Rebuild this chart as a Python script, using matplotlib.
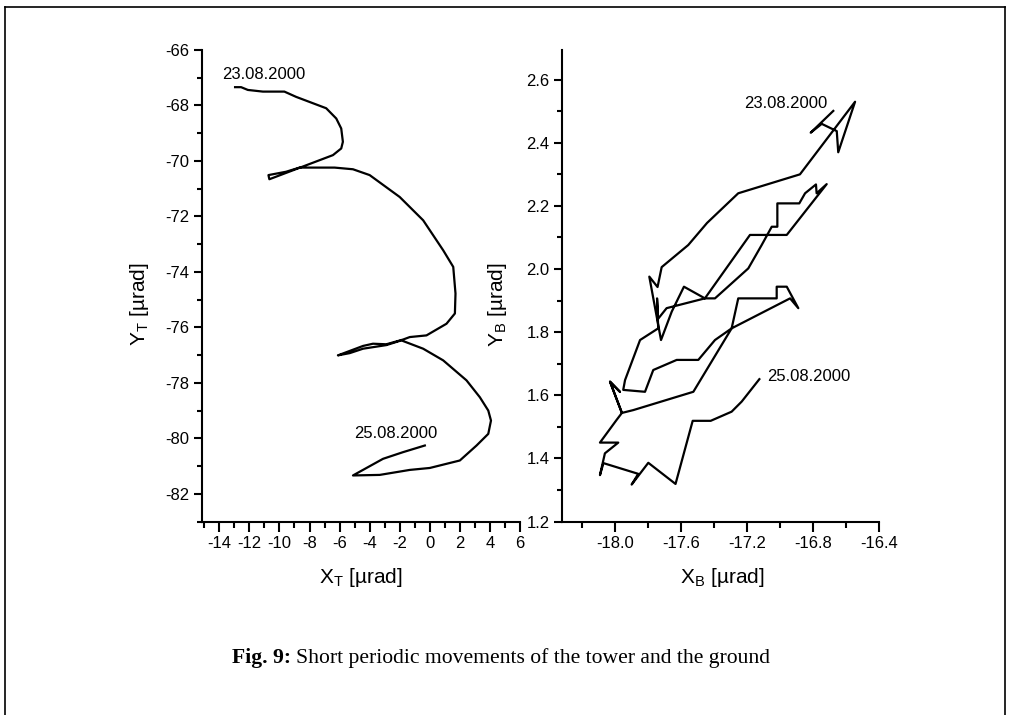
import matplotlib
matplotlib.use('Agg')
import matplotlib.pyplot as plt
from matplotlib.ticker import MultipleLocator, FormatStrFormatter
from matplotlib.lines import Line2D

plt.rcParams['font.family'] = 'Liberation Sans'
plt.rcParams['mathtext.fontset'] = 'custom'
plt.rcParams['mathtext.rm'] = 'Liberation Sans'
plt.rcParams['axes.unicode_minus'] = False

# tower (X_T, Y_T) trace, 23.08.2000 -> 25.08.2000
xt = [-12.95, -12.55, -12.1, -11.1, -9.67, -8.89, -6.89, -6.22, -5.89, -5.78,
      -5.89, -6.44, -10.67, -10.73, -9.56, -8.67, -6.33, -5.11, -4.0, -2.0,
      -0.44, 0.89, 1.56, 1.71, 1.67, 1.11, -0.22, -1.33, -1.78, -2.89,
      -3.78, -4.44, -6.11, -5.33, -4.44, -2.89, -1.89, -0.44, 0.89, 2.44,
      3.33, 3.89, 4.07, 3.89, 3.11, 2.0, 0.0, -1.33, -3.33, -5.11,
      -3.11, -1.78, -0.33]
yt = [-67.34, -67.34, -67.44, -67.5, -67.5, -67.69, -68.1, -68.47, -68.83, -69.31,
      -69.55, -69.79, -70.66, -70.51, -70.39, -70.24, -70.24, -70.3, -70.51, -71.3,
      -72.14, -73.22, -73.82, -74.78, -75.5, -75.87, -76.29, -76.35, -76.44, -76.61,
      -76.59, -76.67, -77.01, -76.93, -76.77, -76.64, -76.47, -76.77, -77.19, -77.91,
      -78.52, -79.0, -79.36, -79.84, -80.26, -80.8, -81.07, -81.14, -81.32, -81.34,
      -80.74, -80.5, -80.26]

# ground (X_B, Y_B) trace
xb = [-16.677, -16.814, -16.747, -16.656, -16.647, -16.545, -16.879, -17.253, -17.442, -17.556,
      -17.717, -17.742, -17.792, -17.721, -17.656, -17.582, -17.455, -17.394, -17.192, -17.111,
      -17.050, -17.016, -17.016, -16.883, -16.848, -16.782, -16.778, -16.717, -16.959, -17.182,
      -17.455, -17.687, -17.739, -17.745, -17.738, -17.848, -17.939, -17.950, -17.818, -17.768,
      -17.626, -17.495, -17.394, -17.293, -16.939, -16.889, -16.959, -17.020, -17.020, -17.253,
      -17.293, -17.525, -17.889, -17.958, -18.030, -17.970, -18.030, -17.958, -17.990, -18.091,
      -17.980, -18.061, -18.091, -18.070, -17.859, -17.899, -17.798, -17.633, -17.529, -17.420,
      -17.293, -17.232, -17.125]
yb = [2.501, 2.432, 2.460, 2.437, 2.370, 2.530, 2.300, 2.240, 2.146, 2.076,
      2.006, 1.943, 1.976, 1.775, 1.865, 1.944, 1.907, 1.907, 2.002, 2.076,
      2.134, 2.134, 2.208, 2.208, 2.240, 2.268, 2.240, 2.269, 2.108, 2.108,
      1.907, 1.876, 1.842, 1.907, 1.812, 1.775, 1.648, 1.617, 1.611, 1.680,
      1.712, 1.712, 1.775, 1.812, 1.907, 1.876, 1.944, 1.944, 1.907, 1.907,
      1.812, 1.611, 1.553, 1.544, 1.643, 1.611, 1.643, 1.544, 1.522, 1.450,
      1.450, 1.416, 1.347, 1.385, 1.351, 1.317, 1.386, 1.319, 1.519, 1.519,
      1.548, 1.580, 1.651]

fig = plt.figure(figsize=(10.11, 7.15), dpi=100)

ax1 = fig.add_axes([202/1011, 1 - 521.5/715, 318/1011, 471.5/715])
ax2 = fig.add_axes([562/1011, 1 - 521.5/715, 317/1011, 471.5/715])

ax1.plot(xt, yt, color='black', lw=1.6)
ax2.plot(xb, yb, color='black', lw=1.6)

ax1.set_xlim(-15.15, 6)
ax1.set_ylim(-83, -66)
ax1.xaxis.set_major_locator(MultipleLocator(2))
ax1.xaxis.set_minor_locator(MultipleLocator(1))
ax1.yaxis.set_major_locator(MultipleLocator(2))
ax1.yaxis.set_minor_locator(MultipleLocator(1))

ax2.set_xlim(-18.321, -16.4)
ax2.set_ylim(1.2, 2.694)
ax2.xaxis.set_major_locator(MultipleLocator(0.4))
ax2.xaxis.set_minor_locator(MultipleLocator(0.2))
ax2.yaxis.set_major_locator(MultipleLocator(0.2))
ax2.yaxis.set_minor_locator(MultipleLocator(0.1))
ax2.xaxis.set_major_formatter(FormatStrFormatter('%.1f'))
ax2.yaxis.set_major_formatter(FormatStrFormatter('%.1f'))

for ax in (ax1, ax2):
    ax.spines['top'].set_visible(False)
    ax.spines['right'].set_visible(False)
    ax.spines['left'].set_linewidth(1.5)
    ax.spines['bottom'].set_linewidth(1.5)
    ax.tick_params(which='major', direction='out', length=6, width=1.5, labelsize=12, pad=3)
    ax.tick_params(which='minor', direction='out', length=3.5, width=1.5)
    ax.tick_params(axis='x', which='major', length=7.5)
    ax.tick_params(axis='x', which='minor', length=4.5)

ax1.set_xlabel(r'X$_{\mathregular{T}}$ [µrad]', fontsize=15)
ax1.set_ylabel(r'Y$_{\mathregular{T}}$ [µrad]', fontsize=15)
ax2.set_xlabel(r'X$_{\mathregular{B}}$ [µrad]', fontsize=15)
ax2.set_ylabel(r'Y$_{\mathregular{B}}$ [µrad]', fontsize=15)
ax1.xaxis.set_label_coords(0.5, -0.094)
ax2.xaxis.set_label_coords(0.504, -0.094)
ax1.yaxis.set_label_coords(-0.16, 0.46)
ax2.yaxis.set_label_coords(-0.168, 0.46)

ax1.text(-13.8, -66.87, '23.08.2000', fontsize=12, ha='left', va='center')
ax1.text(-5.0, -79.84, '25.08.2000', fontsize=12, ha='left', va='center')
ax2.text(-17.22, 2.525, '23.08.2000', fontsize=12, ha='left', va='center')
ax2.text(-17.08, 1.659, '25.08.2000', fontsize=12, ha='left', va='center')

# caption, bold label then plain text
cap1 = fig.text(232/1011, 1 - 658/715, 'Fig. 9:', fontsize=15.6, fontweight='bold',
                family='Liberation Serif', ha='left', va='center')
renderer = fig.canvas.get_renderer()
bb = cap1.get_window_extent(renderer=renderer)
fig.text((bb.x1 + 5) / 1011, 1 - 658/715, 'Short periodic movements of the tower and the ground',
         fontsize=15.6, family='Liberation Serif', ha='left', va='center')

# frame around the figure
W, H = 1011, 715
for xs, ys in [((5, 5), (0, 708)), ((5, 1005), (708, 708)), ((1005, 1005), (0, 708))]:
    fig.add_artist(Line2D([x / W for x in xs], [y / H for y in ys], color='black', lw=1.2))

fig.savefig('out.png', dpi=100)
